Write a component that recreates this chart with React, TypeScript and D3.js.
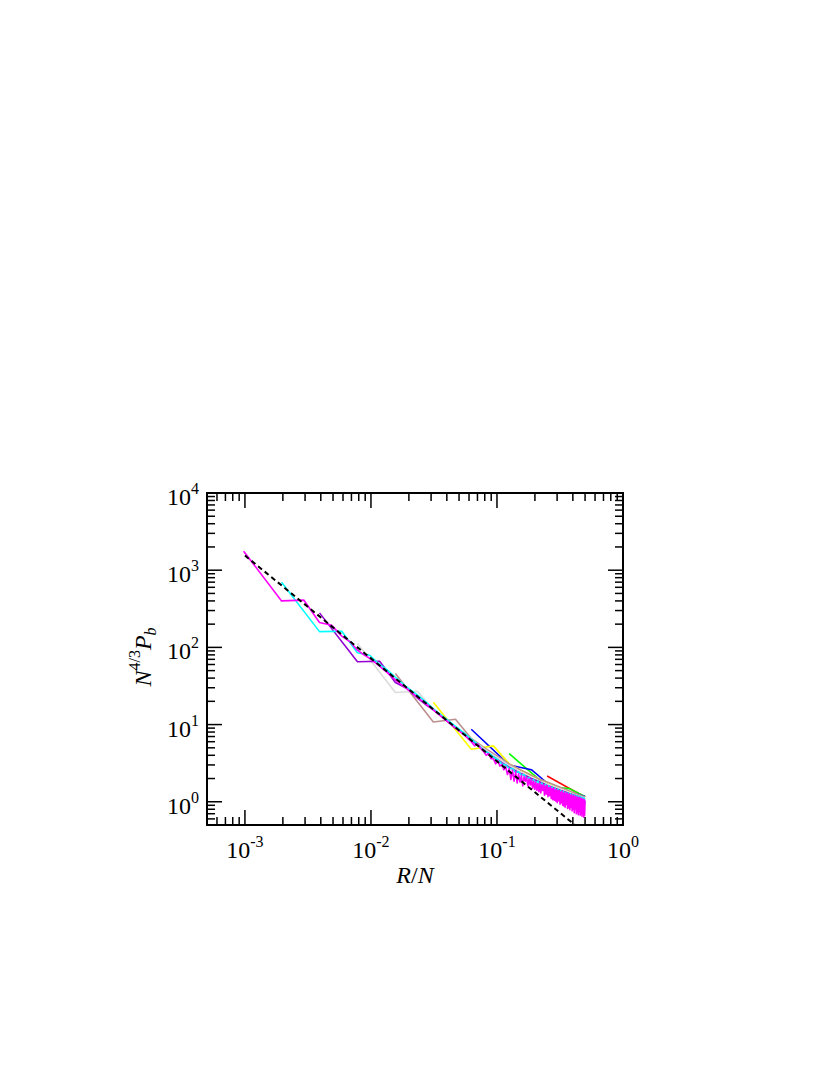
import React from "react";
import * as d3 from "d3";

// ---- data: R values (x = R/N) and N^{4/3} P_b values ----
const redN = 4;
const redR = [1, 2];
const redY = [2.16, 1.15];

const greenN = 8;
const greenR = [1, 2, 3, 4];
const greenY = [4.2, 1.58, 1.48, 1.17];

const blueN = 16;
const blueR = [1, 2, 3, 4, 5, 6, 7, 8];
const blueY = [8.7, 3.0, 2.6, 1.75, 1.53, 1.33, 1.25, 1.17];

const yellowN = 32;
const yellowR = [1, 2, 3, 4, 5, 6, 7, 8, 9, 10, 11, 12, 13, 14, 15, 16];
const yellowY = [19.5, 4.8, 5.3, 3.1, 2.55, 2.2, 1.95, 1.78, 1.62, 1.52, 1.42, 1.35, 1.28, 1.22, 1.17, 1.12];

const brownN = 64;
const brownR = [1, 2, 3, 4, 5, 6, 7, 8, 10, 12, 14, 16, 20, 24, 28, 32];
const brownY = [46, 10.8, 11.7, 6.6, 5.1, 4.2, 3.6, 3.1, 2.55, 2.2, 1.95, 1.8, 1.55, 1.38, 1.25, 1.15];

const greyN = 128;
const greyR = [1, 2, 3, 4, 5, 6, 7, 8, 10, 12, 14, 16, 20, 24, 28, 32, 40, 48, 56, 64];
const greyY = [112, 26, 27, 15.5, 11.8, 9.4, 7.8, 6.5, 4.9, 4.0, 3.4, 2.95, 2.4, 2.05, 1.85, 1.7, 1.48, 1.32, 1.2, 1.12];

const violetN = 256;
const violetR = [1, 2, 3, 4, 5, 6, 7, 8, 10, 12, 14, 16, 20, 24, 28, 32, 40, 48, 56, 64, 80, 96, 112, 128];
const violetY = [280, 65, 66, 35, 29, 22, 18, 15.5, 11.5, 9.0, 7.5, 6.3, 4.7, 3.8, 3.2, 2.8, 2.3, 2.0, 1.8, 1.62, 1.42, 1.28, 1.18, 1.08];

const cyanN = 512;
const cyanR = [
  1, 2, 3, 4, 5, 6, 7, 8, 10, 12, 14, 16, 20, 24, 28, 32,
  36, 40, 44, 48, 52, 56, 60, 64, 68, 72, 76, 80, 84, 88, 92, 96,
  100, 104, 108, 112, 116, 120, 124, 128, 132, 136, 140, 144, 148, 152, 156, 160,
  164, 168, 172, 176, 180, 184, 188, 192, 196, 200, 204, 208, 212, 216, 220, 224,
  228, 232, 236, 240, 244, 248, 252, 256,
];
const cyanY = [
  700, 160, 162, 85, 79, 60, 50, 41, 30, 24, 19.5, 16, 12, 9.5, 7.8, 6.5,
  5.6, 4.6, 4.3, 3.8, 3.5, 3.1, 3.0, 2.7, 2.7, 2.4, 2.45, 2.2, 2.25, 2.0, 2.05, 1.85,
  1.95, 1.75, 1.85, 1.65, 1.75, 1.55, 1.68, 1.5, 1.6, 1.42, 1.55, 1.35, 1.5, 1.3, 1.45, 1.25,
  1.4, 1.2, 1.36, 1.15, 1.32, 1.12, 1.3, 1.08, 1.27, 1.05, 1.24, 1.02, 1.22, 1.0, 1.2, 0.98,
  1.18, 0.95, 1.16, 0.93, 1.14, 0.92, 1.12, 0.95,
];

const magentaN = 1024;
const magentaR = [
  1, 2, 3, 4, 5, 6, 7, 8, 9, 10, 12, 14, 16, 20, 24, 28, 32, 40, 48, 56,
  64, 68, 72, 76, 80, 84, 88, 92, 96, 100, 104, 108, 112, 116, 120, 124,
  128, 132, 136, 140, 144, 148, 152, 156, 160, 164, 168, 172, 176, 180, 184, 188,
  192, 196, 200, 204, 208, 212, 216, 220, 224, 228, 232, 236, 240, 244, 248, 252,
  256, 260, 264, 268, 272, 276, 280, 284, 288, 292, 296, 300, 304, 308, 312, 316,
  320, 324, 328, 332, 336, 340, 344, 348, 352, 356, 360, 364, 368, 372, 376, 380,
  384, 388, 392, 396, 400, 404, 408, 412, 416, 420, 424, 428, 432, 436, 440, 444,
  448, 452, 456, 460, 464, 468, 472, 476, 480, 484, 488, 492, 496, 500, 504, 508,
  512,
];
const magentaY = [
  1760, 400, 410, 210, 193, 140, 118, 92, 80, 72, 57, 46, 38, 28.5, 22.5, 18.5, 15.5, 11.5, 9.0, 7.4,
  6.0, 5.3, 5.6, 4.9, 4.5, 4.0, 4.2, 3.6, 3.6, 3.1, 3.4, 2.9, 3.05, 2.6, 2.85, 2.25,
  2.7, 1.95, 2.55, 1.85, 2.45, 1.75, 2.3, 1.8, 2.2, 1.6, 2.12, 1.85, 2.08, 1.6, 1.98, 1.65,
  1.95, 1.5, 1.85, 1.45, 1.8, 1.4, 1.72, 1.35, 1.75, 1.3, 1.66, 1.4, 1.66, 1.22, 1.6, 1.25,
  1.62, 1.16, 1.53, 1.2, 1.55, 1.1, 1.48, 1.06, 1.5, 1.05, 1.43, 1.02, 1.44, 0.97, 1.39, 1.03,
  1.4, 0.93, 1.34, 0.97, 1.37, 0.9, 1.3, 0.88, 1.33, 0.85, 1.28, 0.92, 1.3, 0.82, 1.25, 0.84,
  1.26, 0.79, 1.2, 0.85, 1.23, 0.76, 1.18, 0.8, 1.2, 0.72, 1.16, 0.81, 1.18, 0.7, 1.13, 0.74,
  1.15, 0.68, 1.11, 0.76, 1.13, 0.67, 1.09, 0.7, 1.11, 0.65, 1.07, 0.72, 1.08, 0.63, 1.06, 0.67,
  1.04,
];

// reference power law (dashed), endpoints
const fitX = [0.001, 0.45];
const fitY = [1550, 0.45];

const xTickExps = [-3, -2, -1, 0];
const yTickExps = [0, 1, 2, 3, 4];

const series = [
  { color: "#ff0000", N: redN, R: redR, Y: redY },
  { color: "#00ff00", N: greenN, R: greenR, Y: greenY },
  { color: "#0000ff", N: blueN, R: blueR, Y: blueY },
  { color: "#ffff00", N: yellowN, R: yellowR, Y: yellowY },
  { color: "#bc8f8f", N: brownN, R: brownR, Y: brownY },
  { color: "#dcdcdc", N: greyN, R: greyR, Y: greyY },
  { color: "#9400d3", N: violetN, R: violetR, Y: violetY },
  { color: "#00ffff", N: cyanN, R: cyanR, Y: cyanY },
  { color: "#ff00ff", N: magentaN, R: magentaR, Y: magentaY },
];

const FONT = "'Liberation Serif', 'Times New Roman', Times, serif";

export default function App() {
  const left = 207, right = 623, top = 493, bottom = 825;
  const x = d3.scaleLog().domain([5e-4, 1]).range([left, right]);
  const y = d3.scaleLog().domain([0.5, 1e4]).range([bottom, top]);

  const line = d3
    .line<[number, number]>()
    .x((d) => x(d[0]))
    .y((d) => y(d[1]));

  const xMinor: number[] = [];
  for (let e = -4; e <= 0; e++)
    for (let m = 1; m <= 9; m++) {
      const v = m * Math.pow(10, e);
      if (v >= 5e-4 * 0.9999 && v <= 1.0001) xMinor.push(v);
    }
  const yMinor: number[] = [];
  for (let e = -1; e <= 4; e++)
    for (let m = 1; m <= 9; m++) {
      const v = m * Math.pow(10, e);
      if (v >= 0.5 * 0.9999 && v <= 1e4 * 1.0001) yMinor.push(v);
    }
  const isMajor = (v: number) => Math.abs(Math.log10(v) - Math.round(Math.log10(v))) < 1e-6;
  const MAJ = 15, MIN = 8;

  return (
    <svg width={830} height={1075} style={{ position: "absolute", left: 0, top: 0 }}>
      <defs>
        <clipPath id="plotclip">
          <rect x={left} y={top} width={right - left} height={bottom - top} />
        </clipPath>
      </defs>
      <rect x={0} y={0} width={830} height={1075} fill="#ffffff" />

      <g clipPath="url(#plotclip)" fill="none">
        {series.map((s, i) => (
          <path
            key={i}
            d={line(s.R.map((r, j) => [r / s.N, s.Y[j]] as [number, number])) || ""}
            stroke={s.color}
            strokeWidth={1.6}
            strokeLinejoin="round"
          />
        ))}
        <path
          d={line(fitX.map((v, j) => [v, fitY[j]] as [number, number])) || ""}
          stroke="#000"
          strokeWidth={2}
          strokeDasharray="5,3.5"
        />
      </g>

      {/* ticks */}
      <g stroke="#000" strokeWidth={1.5}>
        {xMinor.map((v, i) => {
          const L = isMajor(v) ? MAJ : MIN;
          const px = x(v);
          return (
            <g key={"xt" + i}>
              <line x1={px} x2={px} y1={bottom} y2={bottom - L} />
              <line x1={px} x2={px} y1={top} y2={top + L} />
            </g>
          );
        })}
        {yMinor.map((v, i) => {
          const L = isMajor(v) ? MAJ : MIN;
          const py = y(v);
          return (
            <g key={"yt" + i}>
              <line x1={left} x2={left + L} y1={py} y2={py} />
              <line x1={right} x2={right - L} y1={py} y2={py} />
            </g>
          );
        })}
      </g>
      <rect x={left} y={top} width={right - left} height={bottom - top} fill="none" stroke="#000" strokeWidth={2} />

      {/* labels */}
      <g fontFamily={FONT} fill="#000">
        {xTickExps.map((e) => (
          <text key={"xl" + e} x={x(Math.pow(10, e))} y={858} textAnchor="middle" fontSize={24}>
            10
            <tspan fontSize={16} dy={-11}>
              {String(e)}
            </tspan>
          </text>
        ))}
        {yTickExps.map((e) => (
          <text key={"yl" + e} x={199} y={y(Math.pow(10, e)) + 12} textAnchor="end" fontSize={24}>
            10
            <tspan fontSize={16} dy={-11}>
              {String(e)}
            </tspan>
          </text>
        ))}
        <text x={415} y={883} textAnchor="middle" fontSize={24}>
          <tspan fontStyle="italic">R</tspan>
          <tspan>/</tspan>
          <tspan fontStyle="italic">N</tspan>
        </text>
        <text transform="translate(151,657) rotate(-90)" textAnchor="middle" fontSize={24}>
          <tspan fontStyle="italic">N</tspan>
          <tspan fontSize={16} dy={-11}>4/3</tspan>
          <tspan fontStyle="italic" dy={11}>P</tspan>
          <tspan fontStyle="italic" fontSize={16} dy={5}>b</tspan>
        </text>
      </g>
    </svg>
  );
}
